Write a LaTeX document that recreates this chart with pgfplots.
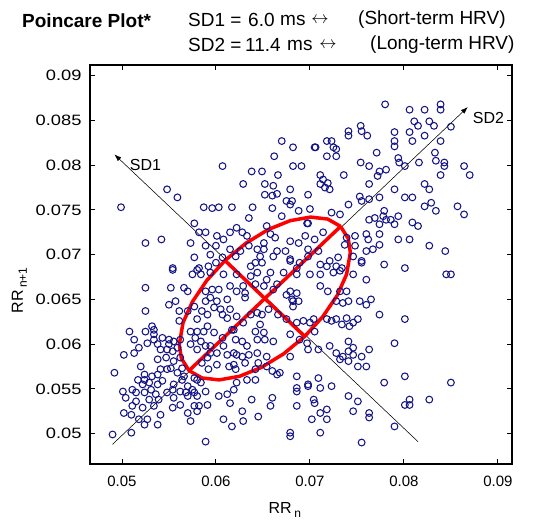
\documentclass[border=0pt]{standalone}
\usepackage{pgfplots}
\pgfplotsset{compat=1.18}
\usepackage{pgfplotstable}
\usepackage{fontspec}
\setmainfont{Liberation Sans}
\usetikzlibrary{arrows.meta}
\definecolor{ptblue}{RGB}{20,20,135}
\newcommand{\yl}[1]{\scalebox{1.22}[1]{#1}}

\pgfplotstableread{
x y
0.0670 0.0827
0.0682 0.0820
0.0705 0.0820
0.0662 0.0810
0.0682 0.0799
0.0691 0.0799
0.0607 0.0799
0.0638 0.0793
0.0649 0.0793
0.0666 0.0789
0.0629 0.0779
0.0652 0.0779
0.0661 0.0777
0.0548 0.0773
0.0559 0.0764
0.0679 0.0773
0.0652 0.0767
0.0660 0.0766
0.0665 0.0768
0.0698 0.0767
0.0675 0.0760
0.0681 0.0760
0.0679 0.0756
0.0499 0.0753
0.0587 0.0753
0.0596 0.0752
0.0603 0.0753
0.0617 0.0753
0.0639 0.0753
0.0660 0.0752
0.0670 0.0743
0.0688 0.0749
0.0698 0.0735
0.0635 0.0741
0.0577 0.0735
0.0582 0.0725
0.0589 0.0725
0.0525 0.0713
0.0542 0.0717
0.0573 0.0713
0.0601 0.0721
0.0608 0.0717
0.0600 0.0710
0.0615 0.0725
0.0622 0.0730
0.0628 0.0725
0.0633 0.0721
0.0651 0.0713
0.0658 0.0723
0.0663 0.0719
0.0679 0.0715
0.0688 0.0713
0.0695 0.0721
0.0626 0.0704
0.0635 0.0710
0.0644 0.0706
0.0577 0.0697
0.0589 0.0710
0.0594 0.0700
0.0665 0.0704
0.0679 0.0695
0.0674 0.0704
0.0554 0.0685
0.0780 0.0868
0.0806 0.0862
0.0822 0.0862
0.0839 0.0868
0.0839 0.0862
0.0811 0.0849
0.0815 0.0844
0.0827 0.0849
0.0832 0.0844
0.0850 0.0843
0.0741 0.0838
0.0741 0.0833
0.0754 0.0844
0.0755 0.0838
0.0761 0.0833
0.0790 0.0837
0.0806 0.0837
0.0822 0.0833
0.0809 0.0827
0.0790 0.0827
0.0790 0.0821
0.0839 0.0827
0.0706 0.0820
0.0718 0.0827
0.0723 0.0827
0.0725 0.0820
0.0728 0.0818
0.0718 0.0810
0.0728 0.0810
0.0771 0.0814
0.0833 0.0814
0.0834 0.0805
0.0843 0.0803
0.0843 0.0799
0.0754 0.0803
0.0763 0.0799
0.0774 0.0793
0.0781 0.0795
0.0772 0.0788
0.0794 0.0808
0.0795 0.0803
0.0801 0.0799
0.0816 0.0803
0.0864 0.0799
0.0870 0.0789
0.0839 0.0789
0.0711 0.0789
0.0714 0.0784
0.0719 0.0780
0.0711 0.0779
0.0716 0.0775
0.0721 0.0773
0.0736 0.0789
0.0763 0.0779
0.0822 0.0779
0.0827 0.0773
0.0790 0.0773
0.0801 0.0764
0.0809 0.0764
0.0753 0.0765
0.0755 0.0760
0.0763 0.0762
0.0774 0.0764
0.0741 0.0756
0.0822 0.0754
0.0829 0.0758
0.0834 0.0749
0.0857 0.0754
0.0864 0.0745
0.0732 0.0745
0.0723 0.0747
0.0763 0.0739
0.0769 0.0741
0.0778 0.0743
0.0781 0.0739
0.0779 0.0749
0.0786 0.0739
0.0794 0.0743
0.0774 0.0734
0.0790 0.0734
0.0809 0.0736
0.0815 0.0732
0.0697 0.0735
0.0705 0.0717
0.0714 0.0725
0.0748 0.0721
0.0760 0.0723
0.0762 0.0717
0.0774 0.0723
0.0774 0.0711
0.0737 0.0711
0.0739 0.0719
0.0794 0.0717
0.0806 0.0717
0.0760 0.0704
0.0755 0.0693
0.0730 0.0697
0.0827 0.0710
0.0844 0.0704
0.0779 0.0689
0.0801 0.0685
0.0711 0.0689
0.0718 0.0687
0.0728 0.0687
0.0689 0.0691
0.0698 0.0698
0.0554 0.0683
0.0580 0.0683
0.0584 0.0678
0.0600 0.0691
0.0608 0.0678
0.0525 0.0663
0.0552 0.0663
0.0566 0.0663
0.0570 0.0659
0.0589 0.0659
0.0596 0.0661
0.0603 0.0661
0.0601 0.0648
0.0589 0.0648
0.0612 0.0650
0.0615 0.0665
0.0622 0.0659
0.0629 0.0665
0.0631 0.0657
0.0642 0.0667
0.0654 0.0672
0.0665 0.0667
0.0679 0.0659
0.0686 0.0657
0.0682 0.0648
0.0644 0.0680
0.0658 0.0680
0.0672 0.0680
0.0686 0.0678
0.0700 0.0678
0.0711 0.0678
0.0637 0.0687
0.0649 0.0691
0.0679 0.0693
0.0525 0.0637
0.0550 0.0644
0.0557 0.0648
0.0561 0.0637
0.0570 0.0637
0.0577 0.0642
0.0585 0.0637
0.0591 0.0633
0.0598 0.0641
0.0607 0.0633
0.0615 0.0639
0.0622 0.0631
0.0637 0.0633
0.0644 0.0635
0.0649 0.0633
0.0656 0.0639
0.0666 0.0633
0.0675 0.0628
0.0693 0.0626
0.0704 0.0628
0.0508 0.0614
0.0513 0.0605
0.0518 0.0596
0.0502 0.0588
0.0513 0.0590
0.0525 0.0614
0.0534 0.0616
0.0534 0.0605
0.0527 0.0601
0.0538 0.0600
0.0543 0.0607
0.0550 0.0605
0.0555 0.0603
0.0562 0.0605
0.0559 0.0596
0.0548 0.0594
0.0554 0.0592
0.0573 0.0614
0.0578 0.0607
0.0573 0.0600
0.0584 0.0603
0.0580 0.0594
0.0589 0.0598
0.0594 0.0590
0.0587 0.0614
0.0598 0.0613
0.0607 0.0607
0.0608 0.0598
0.0601 0.0590
0.0612 0.0588
0.0621 0.0605
0.0628 0.0603
0.0633 0.0598
0.0635 0.0588
0.0622 0.0588
0.0628 0.0586
0.0644 0.0605
0.0652 0.0605
0.0661 0.0603
0.0644 0.0590
0.0654 0.0586
0.0679 0.0586
0.0660 0.0570
0.0668 0.0568
0.0686 0.0564
0.0698 0.0555
0.0686 0.0551
0.0492 0.0568
0.0520 0.0575
0.0524 0.0566
0.0517 0.0560
0.0529 0.0557
0.0538 0.0566
0.0543 0.0559
0.0552 0.0573
0.0559 0.0568
0.0566 0.0564
0.0555 0.0555
0.0570 0.0553
0.0562 0.0547
0.0577 0.0562
0.0584 0.0557
0.0575 0.0549
0.0589 0.0547
0.0580 0.0542
0.0501 0.0547
0.0511 0.0549
0.0504 0.0540
0.0515 0.0536
0.0511 0.0531
0.0524 0.0546
0.0529 0.0538
0.0534 0.0531
0.0522 0.0529
0.0539 0.0538
0.0541 0.0521
0.0548 0.0546
0.0555 0.0540
0.0554 0.0529
0.0562 0.0532
0.0570 0.0542
0.0570 0.0523
0.0573 0.0514
0.0582 0.0531
0.0591 0.0532
0.0603 0.0542
0.0612 0.0544
0.0619 0.0549
0.0615 0.0534
0.0608 0.0516
0.0617 0.0508
0.0628 0.0525
0.0629 0.0514
0.0645 0.0519
0.0638 0.0538
0.0660 0.0540
0.0658 0.0531
0.0686 0.0531
0.0704 0.0538
0.0702 0.0516
0.0711 0.0523
0.0679 0.0501
0.0679 0.0497
0.0589 0.0491
0.0502 0.0523
0.0510 0.0521
0.0518 0.0516
0.0524 0.0510
0.0538 0.0510
0.0527 0.0516
0.0490 0.0499
0.0510 0.0501
0.0686 0.0547
0.0698 0.0553
0.0725 0.0680
0.0734 0.0685
0.0755 0.0691
0.0746 0.0678
0.0760 0.0672
0.0845 0.0678
0.0850 0.0678
0.0711 0.0665
0.0719 0.0659
0.0739 0.0659
0.0735 0.0646
0.0728 0.0648
0.0753 0.0648
0.0760 0.0644
0.0765 0.0650
0.0774 0.0633
0.0801 0.0628
0.0718 0.0628
0.0723 0.0626
0.0728 0.0628
0.0734 0.0622
0.0739 0.0629
0.0742 0.0620
0.0751 0.0628
0.0746 0.0624
0.0705 0.0614
0.0697 0.0601
0.0709 0.0594
0.0698 0.0594
0.0741 0.0603
0.0790 0.0601
0.0763 0.0594
0.0732 0.0583
0.0735 0.0586
0.0746 0.0588
0.0755 0.0586
0.0751 0.0575
0.0760 0.0575
0.0741 0.0581
0.0709 0.0562
0.0711 0.0551
0.0723 0.0553
0.0779 0.0557
0.0801 0.0564
0.0850 0.0557
0.0741 0.0542
0.0751 0.0536
0.0746 0.0525
0.0806 0.0538
0.0806 0.0532
0.0801 0.0532
0.0827 0.0538
0.0705 0.0534
0.0718 0.0527
0.0718 0.0516
0.0763 0.0523
0.0763 0.0518
0.0790 0.0508
0.0711 0.0501
0.0755 0.0490
0.0522 0.0555
0.0531 0.0549
0.0536 0.0544
0.0554 0.0549
0.0577 0.0531
0.0580 0.0525
0.0577 0.0546
0.0622 0.0557
0.0642 0.0560
0.0532 0.0620
0.0534 0.0611
0.0541 0.0594
0.0550 0.0600
0.0547 0.0585
0.0538 0.0583
0.0555 0.0581
0.0562 0.0585
0.0564 0.0573
0.0548 0.0572
0.0541 0.0572
0.0524 0.0560
0.0532 0.0564
0.0538 0.0555
0.0515 0.0546
0.0564 0.0560
0.0580 0.0560
0.0568 0.0546
0.0585 0.0579
0.0592 0.0572
0.0601 0.0577
0.0591 0.0585
0.0580 0.0614
0.0594 0.0598
0.0591 0.0620
0.0580 0.0628
0.0594 0.0652
0.0605 0.0639
0.0612 0.0629
0.0575 0.0678
0.0594 0.0680
0.0619 0.0616
0.0619 0.0590
0.0614 0.0575
0.0621 0.0572
0.0561 0.0626
0.0622 0.0678
0.0637 0.0676
0.0631 0.0652
0.0651 0.0665
0.0661 0.0661
0.0675 0.0655
0.0681 0.0650
0.0688 0.0648
0.0682 0.0642
0.0741 0.0648
0.0732 0.0659
0.0629 0.0624
0.0617 0.0616
0.0700 0.0624
0.0647 0.0622
0.0642 0.0614
0.0651 0.0613
0.0679 0.0611
0.0686 0.0624
0.0689 0.0605
0.0721 0.0598
0.0728 0.0590
0.0741 0.0592
0.0746 0.0596
0.0631 0.0579
0.0619 0.0577
0.0645 0.0579
0.0654 0.0575
0.0642 0.0572
0.0633 0.0560
0.0665 0.0566
0.0700 0.0751
0.0654 0.0732
0.0748 0.0710
0.0767 0.0706
0.0651 0.0706
0.0661 0.0698
0.0686 0.0685
0.0698 0.0706
0.0709 0.0704
0.0721 0.0693
0.0732 0.0682
0.0746 0.0698
0.0607 0.0697
0.0582 0.0685
0.0592 0.0687
0.0615 0.0706
0.0621 0.0698
0.0642 0.0691
0.0647 0.0698
}\rrdata

\begin{document}
\begin{tikzpicture}[x=1pt,y=1pt]
\path[use as bounding box] (-90,-59) rectangle (451,464);
\begin{axis}[
  at={(0,0)}, anchor=south west, scale only axis,
  width=422pt, height=399pt,
  xmin=0.0466, xmax=0.0915, ymin=0.0466, ymax=0.0912,
  xtick={0.05,0.06,0.07,0.08,0.09},
  xticklabels={0.05,0.06,0.07,0.08,0.09},
  ytick={0.05,0.055,0.06,0.065,0.07,0.075,0.08,0.085,0.09},
  yticklabels={\yl{0.05},\yl{0.055},\yl{0.06},\yl{0.065},\yl{0.07},\yl{0.075},\yl{0.08},\yl{0.085},\yl{0.09}},
  scaled ticks=false,
  tick align=inside, major tick length=5pt,
  ticklabel style={font=\fontsize{15}{18}\selectfont},
  xticklabel style={yshift=-8pt},
  yticklabel style={xshift=-5pt},
  axis line style={line width=1.1pt},
  every tick/.style={black, line width=0.9pt},
]
\addplot[only marks, mark=o, mark size=3.4pt, ptblue, mark options={line width=1.05pt}] table[x=x,y=y] {\rrdata};
\addplot[black, line width=0.55pt, -{Latex[length=7pt,width=5pt]}] coordinates {(0.0815,0.0491) (0.0492,0.0812)};
\addplot[black, line width=0.55pt, -{Latex[length=7pt,width=5pt]}] coordinates {(0.0490,0.0488) (0.0868,0.0865)};
\addplot[red, line width=3.5pt, line join=round] coordinates {
(0.07326,0.07316) (0.07189,0.07398) (0.07006,0.07420) (0.06790,0.07380)
(0.06556,0.07281) (0.06319,0.07128) (0.06096,0.06934) (0.05902,0.06711)
(0.05750,0.06474) (0.05650,0.06240) (0.05610,0.05996) (0.05632,0.05841)
(0.05714,0.05704) (0.05851,0.05622) (0.06034,0.05600) (0.06250,0.05640)
(0.06484,0.05740) (0.06721,0.05892) (0.06944,0.06086) (0.07138,0.06309)
(0.07291,0.06546) (0.07390,0.06780) (0.07430,0.07024) (0.07408,0.07179)
(0.07326,0.07316)};
\addplot[red, line width=3.5pt] coordinates {(0.05714,0.05704) (0.07326,0.07316)};
\addplot[red, line width=3.5pt] coordinates {(0.06096,0.06934) (0.06944,0.06086)};
\node[font=\fontsize{16}{19}\selectfont] at (axis cs:0.0525,0.0800) {SD1};
\node[font=\fontsize{16}{19}\selectfont] at (axis cs:0.0890,0.0853) {SD2};
\end{axis}
\begin{scope}[every node/.style={inner sep=0pt, font=\fontsize{19}{22}\selectfont}]
\node[anchor=west, font=\fontsize{19}{22}\selectfont\bfseries] at (-68,443) {Poincare Plot*};
\node[anchor=west] at (98,444) {SD1 =};
\node[anchor=west] at (158,444) {6.0};
\node[anchor=west] at (190,444) {ms};
\node at (230,444) {$\leftrightarrow$};
\node[anchor=west] at (268,444) {(Short-term HRV)};
\node[anchor=west] at (98,419) {SD2 =};
\node[anchor=west] at (155,419) {11.4};
\node[anchor=west] at (197,419) {ms};
\node at (238,419) {$\leftrightarrow$};
\node[anchor=west] at (280,419) {(Long-term HRV)};
\end{scope}
\node[anchor=base west, font=\fontsize{16}{19}\selectfont] at (175,-49) {RR\,\raisebox{-4pt}{\fontsize{12}{14}\selectfont n}};
\node[anchor=base west, rotate=90, font=\fontsize{16}{19}\selectfont] at (-67,147) {RR\,\raisebox{-4pt}{\fontsize{12}{14}\selectfont n+1}};
\end{tikzpicture}
\end{document}
